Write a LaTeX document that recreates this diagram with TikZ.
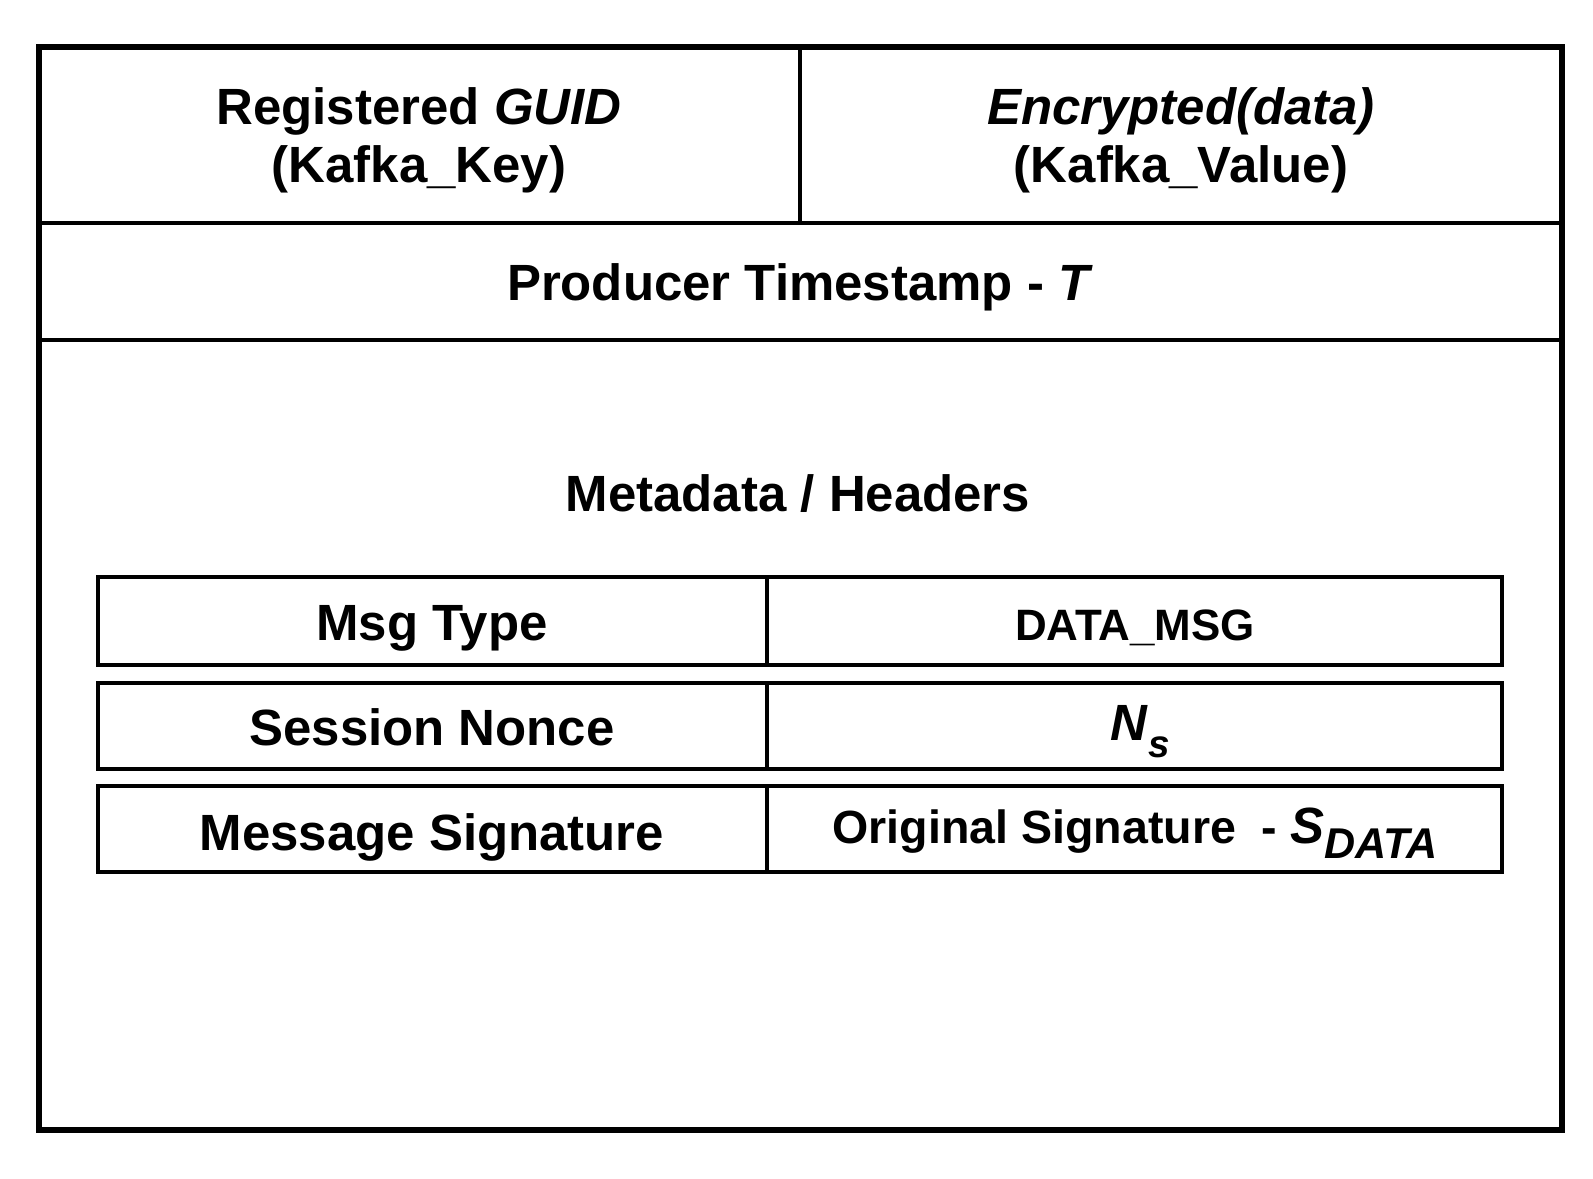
\documentclass[tikz,border=0pt]{standalone}
\usepackage{fontspec}
\setmainfont{Liberation Sans}
\usepackage{tikz}

\tikzset{
  biglbl/.style={anchor=base, inner sep=0pt, font=\fontsize{29}{34}\selectfont\bfseries},
  vallbl/.style={anchor=base, inner sep=0pt, font=\fontsize{25}{30}\selectfont\bfseries},
}

\begin{document}
\begin{tikzpicture}[x=0.02cm, y=-0.02cm]
\useasboundingbox (0,0) rectangle (1593,1179);

% Message frame
\draw[line width=3.4pt] (39,47) rectangle (1562,1130);
\draw[line width=2.8pt] (39,223) -- (1562,223);
\draw[line width=2.8pt] (800,47) -- (800,223);
\draw[line width=2.8pt] (39,340) -- (1562,340);

% Header rows
\foreach \t/\b in {577/665,683/769,786/872} {
  \draw[line width=2.8pt] (98,\t) rectangle (1502,\b);
  \draw[line width=2.8pt] (767,\t) -- (767,\b);
}

% Labels
\node[biglbl] (guid) at (419,125) {Registered \textit{GUID}};
\node[biglbl] (kkey) at (419,183) {(Kafka\_Key)};
\node[biglbl] (encdata) at (1181,125) {\textit{Encrypted(data)}};
\node[biglbl] (kvalue) at (1181,183) {(Kafka\_Value)};
\node[biglbl] (tstamp) at (800,300) {Producer Timestamp - \textit{T}};
\node[biglbl] (meta) at (798,511) {Metadata / Headers};

\node[biglbl] (msgtype) at (432,640) {Msg Type};
\node[biglbl] (nonce) at (432,745) {Session Nonce};
\node[biglbl] (msgsig) at (432,850) {Message Signature};

\node[vallbl] (datamsg) at (1135,640) {DATA\_MSG};
\node[biglbl] (ns) at (1140,740) {\textit{N}\raisebox{-10pt}{\fontsize{22}{26}\selectfont\textit{s}}};
\node[vallbl] (origsig) at (1135,843) {{\fontsize{26.5}{30}\selectfont Original Signature\ \ - }{\fontsize{29}{34}\selectfont\textit{S}}\raisebox{-9pt}{\fontsize{24.5}{28}\selectfont\textit{DATA}}};

\end{tikzpicture}
\end{document}
